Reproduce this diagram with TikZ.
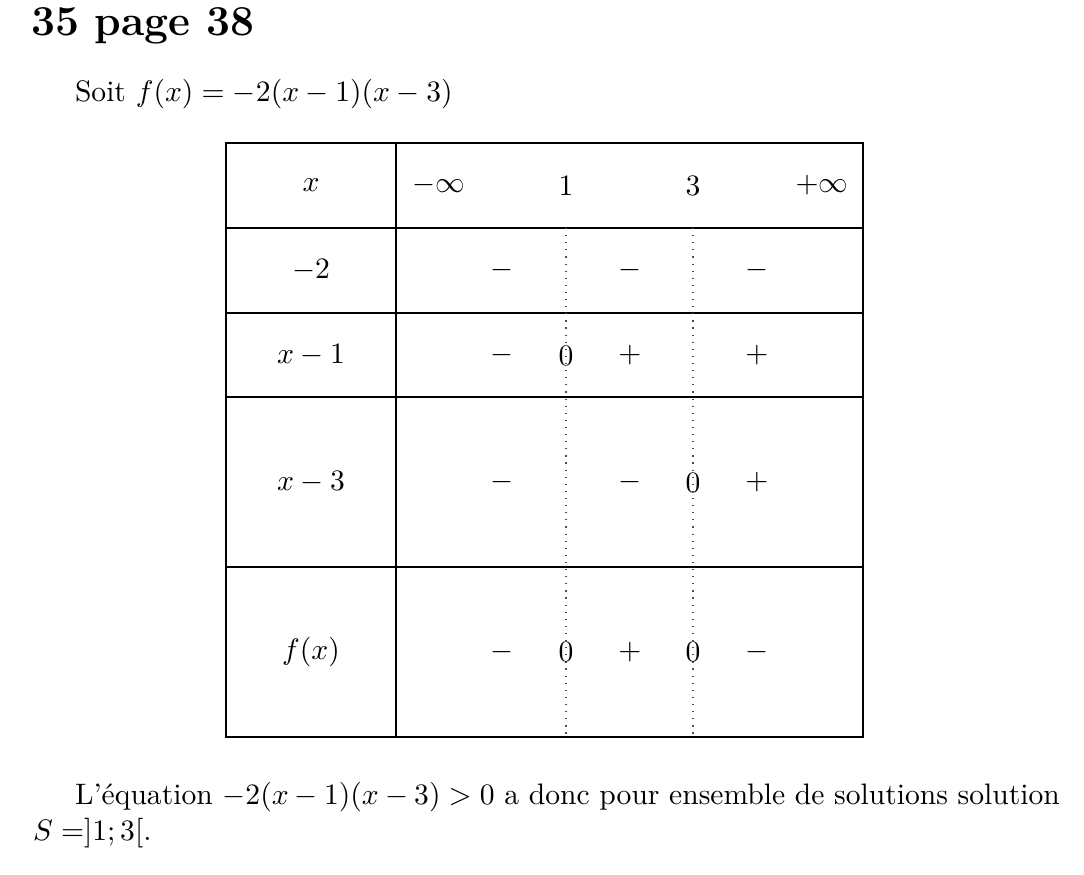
\documentclass[tikz,border=0pt]{standalone}
\begin{document}
\begin{tikzpicture}[x=0.3378pt,y=-0.3378pt,
  txt/.style={inner sep=0pt, outer sep=0pt},
  cell/.style={inner sep=0pt, outer sep=0pt, anchor=center},
  rule/.style={line width=0.4pt, black},
  guide/.style={dotted, line width=0.4pt, black!70}]
\useasboundingbox (0,0) rectangle (1084,875);
\fill[white] (0,0) rectangle (1084,875);

% title and intro
\node[txt, anchor=base west] (title) at (31,35) {\Large\bfseries 35 page 38};
\node[txt, anchor=base west] (intro) at (75,101) {Soit $f(x) = -2(x-1)(x-3)$};

% table frame
\coordinate (tl) at (226,143);
\coordinate (br) at (863,737);
\draw[rule] (tl) rectangle (br);
\draw[rule] (396,143) -- (396,737);
\foreach \yy in {228,313,397,567} \draw[rule] (226,\yy) -- (863,\yy);

% dotted guides
\coordinate (g1t) at (566,228); \coordinate (g1b) at (566,737);
\coordinate (g3t) at (693,228); \coordinate (g3b) at (693,737);
\draw[guide] (g1t) -- (g1b);
\draw[guide] (g3t) -- (g3b);

% row 1
\node[cell] (hx) at (311,185.5) {$x$};
\node[cell] (hminf) at (439,185.5) {$-\infty$};
\node[cell] (h1) at (566,185.5) {$1$};
\node[cell] (h3) at (693,185.5) {$3$};
\node[cell] (hpinf) at (822,185.5) {$+\infty$};

% row 2
\node[cell] (lab2) at (311,270.5) {$-2$};
\node[cell] (r2a) at (502,270.5) {$-$};
\node[cell] (r2b) at (630,270.5) {$-$};
\node[cell] (r2c) at (757,270.5) {$-$};

% row 3
\node[cell] (lab3) at (311,355.5) {$x-1$};
\node[cell] (r3a) at (502,355.5) {$-$};
\node[cell] (r3z) at (566,355.5) {$0$};
\node[cell] (r3b) at (630,355.5) {$+$};
\node[cell] (r3c) at (757,355.5) {$+$};

% row 4
\node[cell] (lab4) at (311,482.5) {$x-3$};
\node[cell] (r4a) at (502,482.5) {$-$};
\node[cell] (r4b) at (630,482.5) {$-$};
\node[cell] (r4z) at (693,482.5) {$0$};
\node[cell] (r4c) at (757,482.5) {$+$};

% row 5
\node[cell] (lab5) at (311,652) {$f(x)$};
\node[cell] (r5a) at (502,652) {$-$};
\node[cell] (r5z1) at (566,652) {$0$};
\node[cell] (r5b) at (630,652) {$+$};
\node[cell] (r5z2) at (693,652) {$0$};
\node[cell] (r5c) at (757,652) {$-$};

% conclusion
\node[txt, anchor=base west] (concl1) at (75,804)
  {\hbox to 332.7pt{L'équation $-2(x-1)(x-3) > 0$ a donc pour ensemble de solutions solution}};
\node[txt, anchor=base west] (concl2) at (33,840) {$S =]1;3[$.};
\end{tikzpicture}
\end{document}
